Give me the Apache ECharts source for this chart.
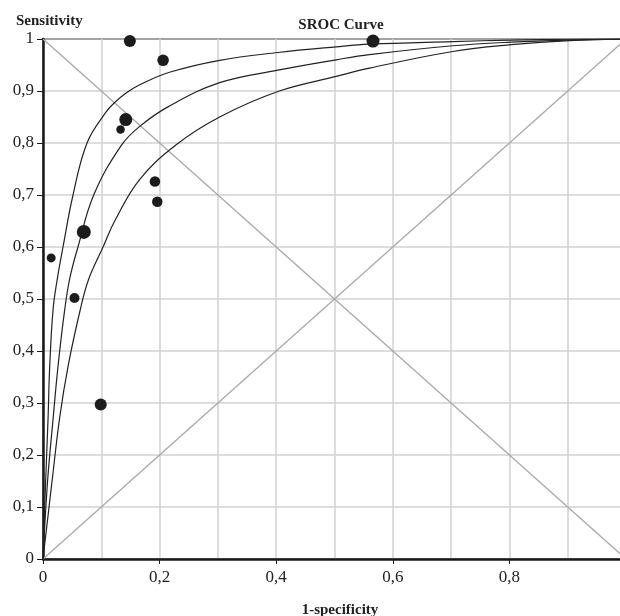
<!DOCTYPE html>
<html><head><meta charset="utf-8">
<script src="https://cdn.jsdelivr.net/npm/echarts@6/dist/echarts.min.js"></script>
<style>html,body{margin:0;padding:0;background:#fff}#c{width:620px;height:616px}</style>
</head><body><div id="c"></div>
<script>
// Study points (1-specificity, sensitivity, marker diameter ~ study weight)
const studyFpr  = [0.149, 0.206, 0.142, 0.133, 0.192, 0.196, 0.070, 0.014, 0.054, 0.099, 0.566];
const studySens = [0.996, 0.959, 0.845, 0.826, 0.726, 0.687, 0.629, 0.579, 0.502, 0.297, 0.996];
const studySize = [12, 11.5, 13, 8.5, 10.5, 10.5, 14, 9, 10, 12, 13];

// SROC curves
const curveAFpr  = [0, 0.0046, 0.0086, 0.0115, 0.0172, 0.024, 0.0343, 0.0515, 0.0755, 0.107, 0.123, 0.145, 0.166, 0.217, 0.303, 0.403, 0.503, 0.56, 0.703, 0.803, 0.903, 1];
const curveASens = [0, 0.152, 0.268, 0.37, 0.479, 0.535, 0.6, 0.7, 0.8, 0.858, 0.878, 0.898, 0.912, 0.936, 0.959, 0.974, 0.985, 0.99, 0.995, 0.998, 0.9995, 1];
const curveBFpr  = [0, 0.008, 0.0172, 0.0257, 0.0372, 0.046, 0.060, 0.087, 0.134, 0.166, 0.215, 0.303, 0.403, 0.503, 0.56, 0.703, 0.803, 0.903, 1];
const curveBSens = [0, 0.152, 0.268, 0.37, 0.479, 0.54, 0.6, 0.7, 0.795, 0.832, 0.87, 0.916, 0.94, 0.96, 0.97, 0.987, 0.994, 0.998, 1];
const curveCFpr  = [0, 0.0166, 0.0286, 0.0429, 0.063, 0.078, 0.103, 0.123, 0.166, 0.229, 0.303, 0.403, 0.503, 0.56, 0.703, 0.803, 0.903, 1];
const curveCSens = [0, 0.16, 0.272, 0.37, 0.475, 0.537, 0.6, 0.65, 0.73, 0.797, 0.85, 0.899, 0.928, 0.944, 0.976, 0.989, 0.997, 1];

// Reference diagonals
const diagUp   = [[0, 0], [1, 1]];
const diagDown = [[0, 1], [1, 0]];

const xTickLabels = ['0', '0,2', '0,4', '0,6', '0,8', ''];
const yTickLabels = ['0', '0,1', '0,2', '0,3', '0,4', '0,5', '0,6', '0,7', '0,8', '0,9', '1'];

const FONT = 'Liberation Serif';
const zip = (a, b) => a.map((v, i) => [v, b[i]]);

const curveStyle = { color: '#222', width: 1.2 };
function curve(fpr, sens) {
  return { type: 'line', data: zip(fpr, sens), smooth: 0.4, showSymbol: false,
           lineStyle: curveStyle, silent: true, z: 3 };
}

const chart = echarts.init(document.getElementById('c'));
chart.setOption({
  animation: false,
  backgroundColor: '#fff',
  title: [
    { text: 'Sensitivity', left: 11, top: 9, textStyle: { fontFamily: FONT, fontSize: 15, fontWeight: 'bold', color: '#222' } },
    { text: 'SROC Curve', left: 336, top: 13, textAlign: 'center', textStyle: { fontFamily: FONT, fontSize: 15, fontWeight: 'bold', color: '#222' } },
    { text: '1-specificity', left: 335, top: 598, textAlign: 'center', textStyle: { fontFamily: FONT, fontSize: 15, fontWeight: 'bold', color: '#222' } }
  ],
  grid: { left: 43, top: 39, width: 583, height: 520, outerBoundsMode: 'none', containLabel: false,
          show: true, borderColor: '#1a1a1a', borderWidth: 2, backgroundColor: 'transparent' },
  xAxis: {
    type: 'value', min: 0, max: 1, interval: 0.2,
    axisLine: { show: true, onZero: false, lineStyle: { color: '#1a1a1a', width: 2.5 } },
    axisTick: { show: true, length: 5, lineStyle: { color: '#1a1a1a', width: 1 } },
    minorTick: { show: false, splitNumber: 2 },
    axisLabel: { fontFamily: FONT, fontSize: 17, color: '#222', margin: 10,
                 formatter: (v, i) => xTickLabels[i] },
    splitLine: { show: true, lineStyle: { color: '#d2d2d2', width: 1.5 } },
    minorSplitLine: { show: true, lineStyle: { color: '#d2d2d2', width: 1.5 } }
  },
  yAxis: {
    type: 'value', min: 0, max: 1, interval: 0.1,
    axisLine: { show: true, onZero: false, lineStyle: { color: '#1a1a1a', width: 2.5 } },
    axisTick: { show: true, length: 6, lineStyle: { color: '#1a1a1a', width: 1 } },
    axisLabel: { fontFamily: FONT, fontSize: 17, color: '#222', margin: 9,
                 formatter: (v, i) => yTickLabels[i] },
    splitLine: { show: true, lineStyle: { color: '#d2d2d2', width: 1.5 } }
  },
  series: [
    { type: 'line', data: diagUp, showSymbol: false, lineStyle: { color: '#a8a8a8', width: 1.3 }, silent: true, z: 2 },
    { type: 'line', data: diagDown, showSymbol: false, lineStyle: { color: '#a8a8a8', width: 1.3 }, silent: true, z: 2 },
    curve(curveAFpr, curveASens),
    curve(curveBFpr, curveBSens),
    curve(curveCFpr, curveCSens),
    { type: 'scatter', data: studyFpr.map((x, i) => [x, studySens[i], studySize[i]]),
      symbolSize: v => v[2], itemStyle: { color: '#1c1c1c', opacity: 1 }, z: 5 }
  ]
});
</script></body></html>
